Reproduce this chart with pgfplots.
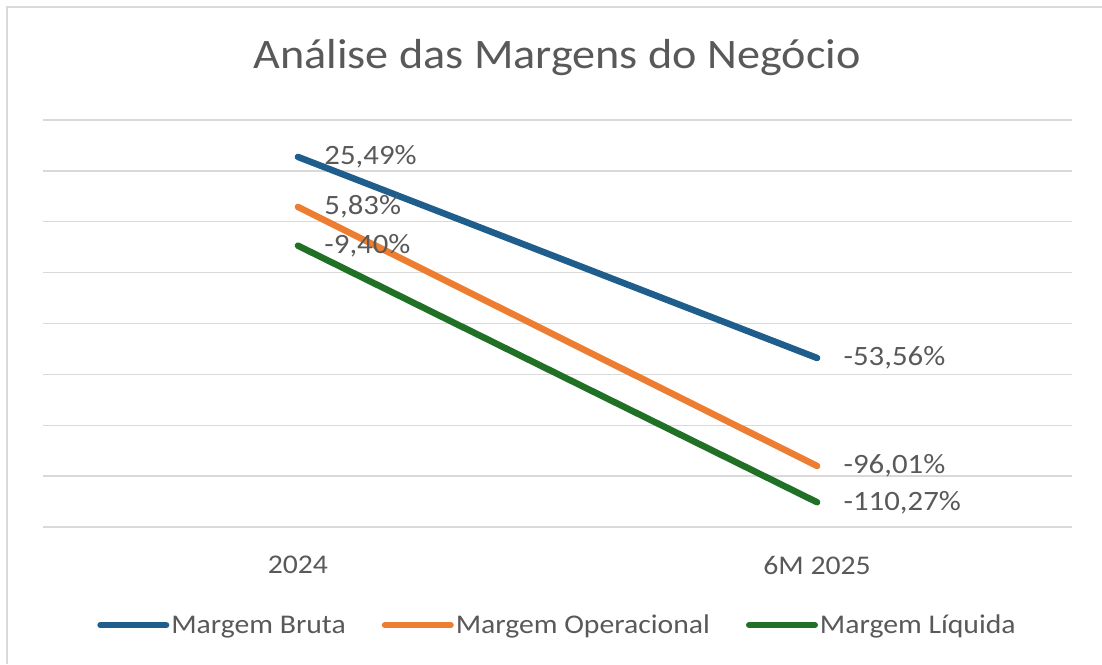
\documentclass[border=0pt]{standalone}
\usepackage{fontspec}
\setmainfont{Carlito}[FakeStretch=1.1]
\usepackage{pgfplots}
\pgfplotsset{compat=1.18}
\definecolor{cblue}{RGB}{31,94,140}
\definecolor{corange}{RGB}{237,125,49}
\definecolor{cgreen}{RGB}{32,112,38}
\definecolor{ctext}{RGB}{89,89,89}
\definecolor{cgrid}{RGB}{217,217,217}
\pgfplotstableread{
x y lab
0 25.49 25,49
1 -53.56 -53,56
}\bruta
\pgfplotstableread{
x y lab
0 5.83 5,83
1 -96.01 -96,01
}\operacional
\pgfplotstableread{
x y lab
0 -9.40 -9,40
1 -110.27 -110,27
}\liquida
\begin{document}
\begin{tikzpicture}[x=1pt,y=1pt]
\path[use as bounding box] (0,0) rectangle (1102,664);
\draw[cgrid, line width=2.5] (7,0) -- (7,657) -- (1102,657);
\node[text=ctext, font=\fontsize{42}{48}\selectfont] at (557,606) {Análise das Margens do Negócio};
\begin{axis}[
  at={(43pt,137pt)}, anchor=south west, scale only axis,
  width=1029pt, height=407pt,
  xmin=-0.491, xmax=1.491, ymin=-120, ymax=40,
  axis line style={draw=none},
  tick style={draw=none},
  ytick={-120,-100,...,40}, yticklabels={},
  ymajorgrids, major grid style={cgrid, line width=1.5pt},
  xtick={0,1}, xticklabels={2024,6M 2025},
  xticklabel style={text=ctext, font=\fontsize{27}{30}\selectfont, anchor=center, yshift=-38pt},
  clip=false,
  point meta=explicit symbolic,
  nodes near coords={\pgfplotspointmeta\%},
  every node near coord/.append style={anchor=west, xshift=20pt, text=ctext, font=\fontsize{28}{32}\selectfont},
  legend style={at={(0.5,-0.241)}, anchor=center, draw=none, fill=none,
    font=\fontsize{27}{30}\selectfont, text=ctext,
    nodes={inner xsep=2pt},
    /tikz/every even column/.append style={column sep=34pt},
    /tikz/every odd column/.append style={column sep=0pt}},
  legend columns=3,
  legend image code/.code={\draw[#1, line width=6pt, line cap=round] (0pt,0pt) -- (66pt,0pt);},
]
\addplot[cblue, line width=6.5pt, line cap=round] table[x=x, y=y, meta=lab] {\bruta};
\addlegendentry{Margem Bruta}
\addplot[corange, line width=6.5pt, line cap=round] table[x=x, y=y, meta=lab] {\operacional};
\addlegendentry{Margem Operacional}
\addplot[cgreen, line width=6.5pt, line cap=round] table[x=x, y=y, meta=lab] {\liquida};
\addlegendentry{Margem Líquida}
\end{axis}
\end{tikzpicture}
\end{document}
